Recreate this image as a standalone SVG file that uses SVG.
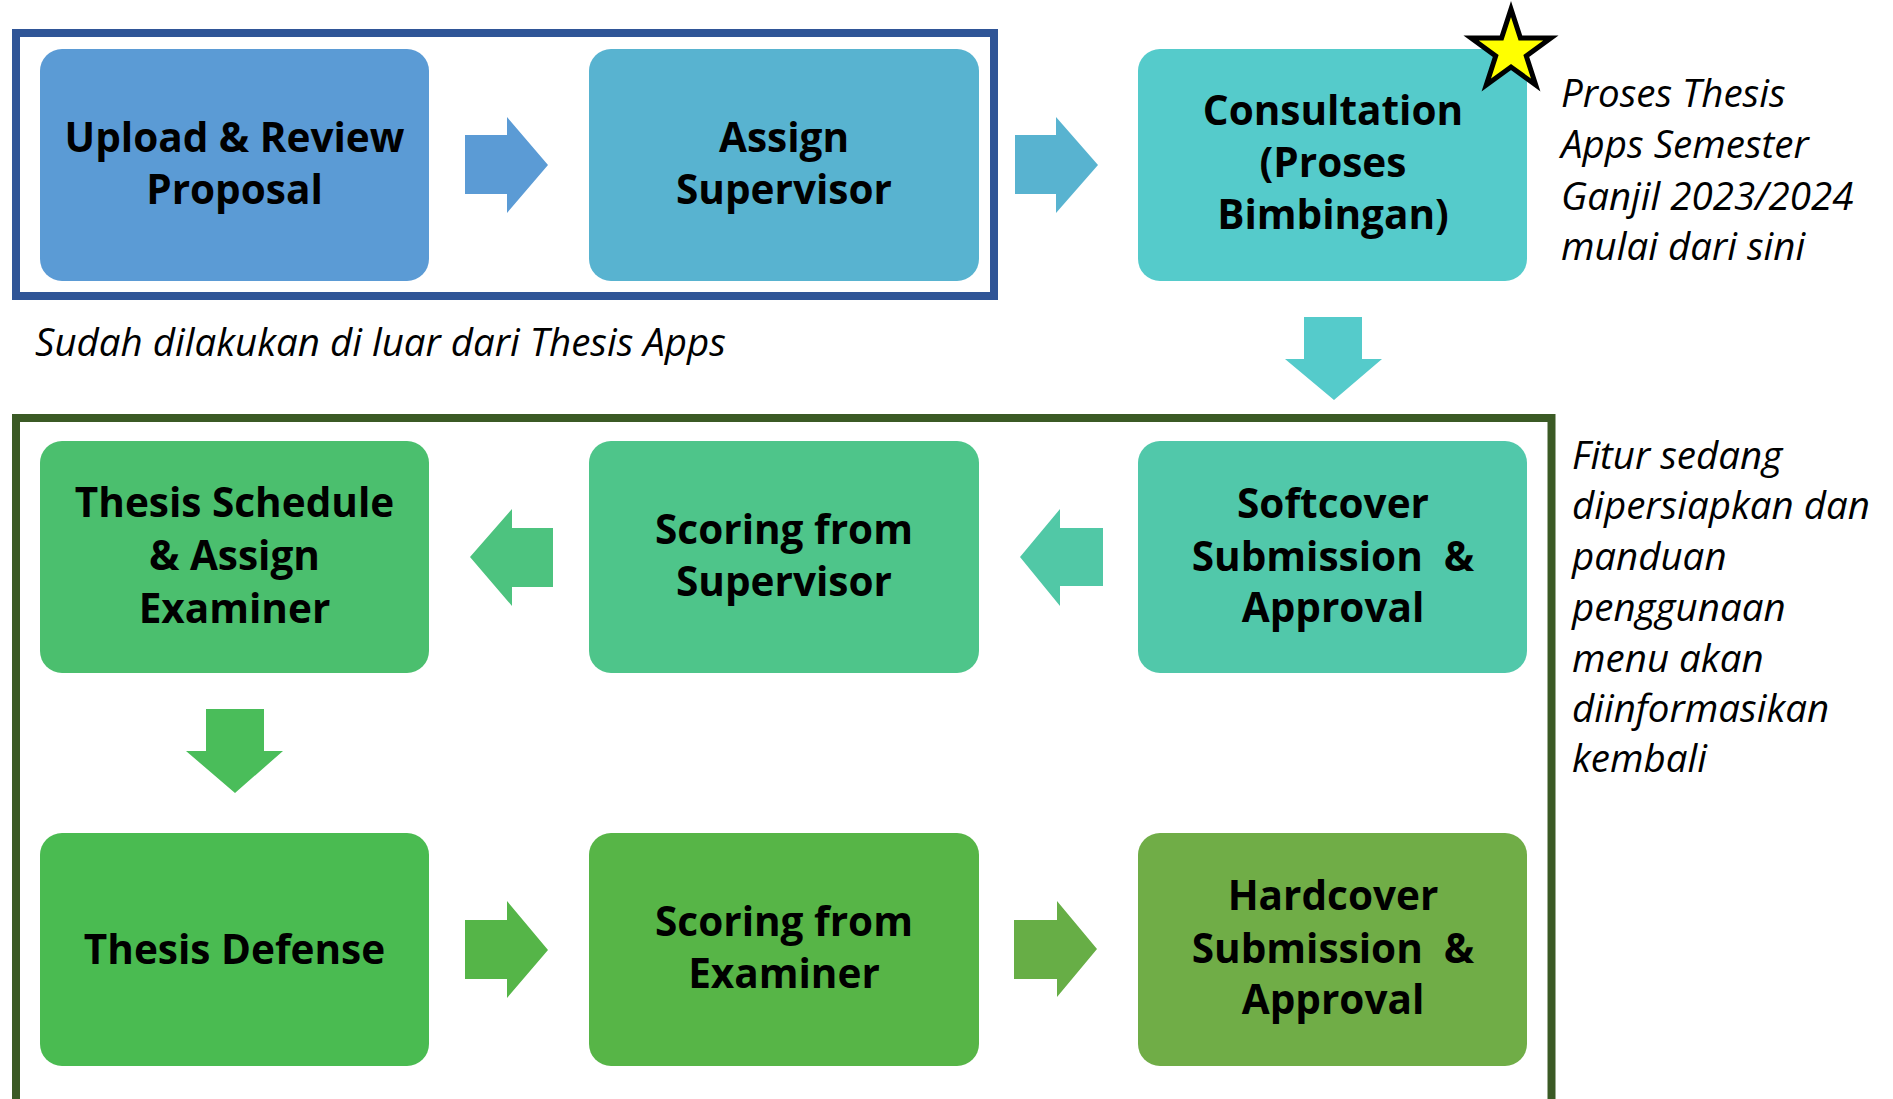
<svg xmlns="http://www.w3.org/2000/svg" width="1893" height="1099" viewBox="0 0 1893 1099">
  <style>
    .node rect { stroke: none; }
    .lbl { font-family: "Open Sans", "Liberation Sans", sans-serif; font-weight: bold; font-size: 40.5px; fill: #000; text-anchor: middle; white-space: pre; }
    .note { font-family: "Open Sans", "Liberation Sans", sans-serif; font-style: italic; font-size: 38.5px; fill: #000; }
    .frame { fill: none; stroke-width: 8; }
  </style>
  <rect width="1893" height="1099" fill="#ffffff"/>

  <!-- group frames -->
  <rect id="frame-outside" class="frame" x="16" y="33" width="978" height="263" stroke="#2F5597"/>
  <rect id="frame-pending" class="frame" x="16" y="418" width="1535.5" height="720" stroke="#3B5A25"/>

  <!-- connectors: block arrows -->
  <g id="connectors">
    <polygon fill="#5B9BD5" points="465,135 507,135 507,117 548,165 507,213 507,194 465,194"/>
    <polygon fill="#58B3D0" points="1015,135 1056,135 1056,117 1098,165 1056,213 1056,194 1015,194"/>
    <polygon fill="#55CBCB" points="1304,317 1362,317 1362,359 1382,359 1334,400 1285,359 1304,359"/>
    <polygon fill="#51C8A6" points="1103,528 1060,528 1060,509 1020,557 1060,606 1060,586 1103,586"/>
    <polygon fill="#4DC37F" points="553,528 512,528 512,509 470,557 512,606 512,587 553,587"/>
    <polygon fill="#4ABD5A" points="206,709 264,709 264,751 283,751 235,793 186,751 206,751"/>
    <polygon fill="#55B548" points="465,920 507,920 507,901 548,950 507,998 507,979 465,979"/>
    <polygon fill="#67AE46" points="1014,920 1057,920 1057,901 1097,949 1057,997 1057,979 1014,979"/>
  </g>

  <!-- row 1 -->
  <g id="upload-review" class="node">
    <rect x="40" y="49" width="389" height="232" rx="22" fill="#5B9BD5"/>
    <text class="lbl" x="234.5" y="152">Upload &amp; Review</text>
    <text class="lbl" x="234.5" y="204">Proposal</text>
  </g>
  <g id="assign-supervisor" class="node">
    <rect x="589" y="49" width="390" height="232" rx="22" fill="#58B3D0"/>
    <text class="lbl" x="784" y="152">Assign</text>
    <text class="lbl" x="784" y="204">Supervisor</text>
  </g>
  <g id="consultation" class="node">
    <rect x="1138" y="49" width="389" height="232" rx="22" fill="#55CBCB"/>
    <text class="lbl" x="1333" y="125">Consultation</text>
    <text class="lbl" x="1333" y="177">(Proses</text>
    <text class="lbl" x="1333" y="229">Bimbingan)</text>
  </g>
  <g id="start-star">
    <polygon fill="#FFFF00" stroke="#000" stroke-width="5" stroke-linejoin="miter"
      points="1511,9 1520.4,38 1550.9,38 1526.3,56 1535.7,85 1511,67 1486.3,85 1495.7,56 1471.1,38 1501.6,38"/>
  </g>

  <!-- row 2 -->
  <g id="thesis-schedule" class="node">
    <rect x="40" y="441" width="389" height="232" rx="22" fill="#4BBF6E"/>
    <text class="lbl" x="234.5" y="517">Thesis Schedule</text>
    <text class="lbl" x="234.5" y="570">&amp; Assign</text>
    <text class="lbl" x="234.5" y="623">Examiner</text>
  </g>
  <g id="scoring-supervisor" class="node">
    <rect x="589" y="441" width="390" height="232" rx="22" fill="#4EC58A"/>
    <text class="lbl" x="784" y="544">Scoring from</text>
    <text class="lbl" x="784" y="596">Supervisor</text>
  </g>
  <g id="softcover" class="node">
    <rect x="1138" y="441" width="389" height="232" rx="22" fill="#51C8AA"/>
    <text class="lbl" x="1333" y="518">Softcover</text>
    <text class="lbl" x="1333" y="571">Submission  &amp;</text>
    <text class="lbl" x="1333" y="622">Approval</text>
  </g>

  <!-- row 3 -->
  <g id="thesis-defense" class="node">
    <rect x="40" y="833" width="389" height="233" rx="22" fill="#4ABB51"/>
    <text class="lbl" x="234.5" y="964">Thesis Defense</text>
  </g>
  <g id="scoring-examiner" class="node">
    <rect x="589" y="833" width="390" height="233" rx="22" fill="#57B547"/>
    <text class="lbl" x="784" y="936">Scoring from</text>
    <text class="lbl" x="784" y="988">Examiner</text>
  </g>
  <g id="hardcover" class="node">
    <rect x="1138" y="833" width="389" height="233" rx="22" fill="#70AD47"/>
    <text class="lbl" x="1333" y="910">Hardcover</text>
    <text class="lbl" x="1333" y="963">Submission  &amp;</text>
    <text class="lbl" x="1333" y="1014">Approval</text>
  </g>

  <!-- notes -->
  <g id="notes">
    <text class="note" x="35" y="356">Sudah dilakukan di luar dari Thesis Apps</text>
    <text class="note" x="1561" y="107">Proses Thesis</text>
    <text class="note" x="1561" y="158">Apps Semester</text>
    <text class="note" x="1561" y="210">Ganjil 2023/2024</text>
    <text class="note" x="1561" y="260">mulai dari sini</text>
    <text class="note" x="1572" y="469">Fitur sedang</text>
    <text class="note" x="1572" y="519">dipersiapkan dan</text>
    <text class="note" x="1572" y="570">panduan</text>
    <text class="note" x="1572" y="621">penggunaan</text>
    <text class="note" x="1572" y="672">menu akan</text>
    <text class="note" x="1572" y="722">diinformasikan</text>
    <text class="note" x="1572" y="772">kembali</text>
  </g>
</svg>
